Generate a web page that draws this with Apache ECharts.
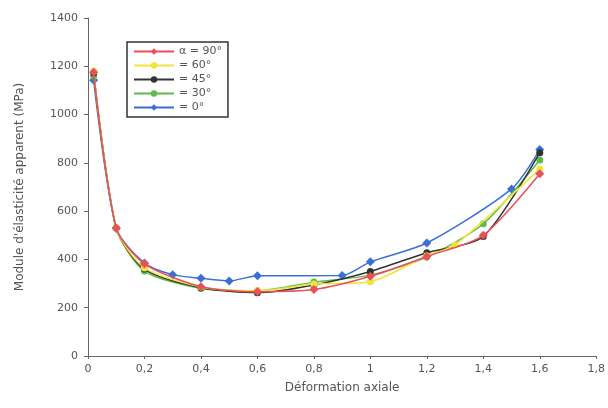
<!DOCTYPE html>
<html lang="fr">
<head>
    <meta charset="UTF-8">
    <title>Module d'élasticité apparent</title>
    <script src="https://cdn.jsdelivr.net/npm/echarts@6/dist/echarts.min.js"></script>
</head>
<body style="margin:0">
  <div id="main" style="width:608px;height:408px;"></div>
  <script type="text/javascript">
    // valeurs : [déformation, module MPa]
    var names = ['α = 90°', '= 60°', '= 45°', '= 30°', '= 0°'];
    var colors = ['#e8505a', '#f2e33c', '#2f3530', '#5dbb4c', '#3b6fd6'];
    var symbols = ['diamond', 'circle', 'circle', 'circle', 'diamond'];

    var s90 = [[0.02, 1175], [0.1, 530], [0.2, 382], [0.4, 287], [0.6, 266], [0.8, 275], [1.0, 330], [1.2, 412], [1.4, 500], [1.6, 755]];
    var s60 = [[0.02, 1180], [0.1, 530], [0.2, 365], [0.4, 286], [0.6, 270], [0.8, 298], [1.0, 308], [1.2, 415], [1.3, 460], [1.6, 775]];
    var s45 = [[0.02, 1172], [0.1, 530], [0.2, 360], [0.4, 283], [0.6, 262], [0.8, 294], [1.0, 350], [1.2, 428], [1.4, 495], [1.6, 842]];
    var s30 = [[0.02, 1160], [0.1, 530], [0.2, 352], [0.4, 280], [0.6, 270], [0.8, 306], [1.0, 335], [1.2, 410], [1.4, 548], [1.6, 812]];
    var s0 = [[0.02, 1142], [0.1, 528], [0.2, 385], [0.3, 337], [0.4, 322], [0.5, 311], [0.6, 332], [0.9, 333], [1.0, 390], [1.2, 468], [1.5, 692], [1.6, 855]];
    var allData = [s90, s60, s45, s30, s0];

    var myChart = echarts.init(document.getElementById('main'));

    var series = allData.map(function (d, i) {
        return {
            name: names[i],
            type: 'line',
            data: d,
            smooth: 0.25,
            symbol: symbols[i],
            symbolSize: symbols[i] == 'diamond' ? 9 : 7,
            lineStyle: {color: colors[i], width: 1.5},
            itemStyle: {color: colors[i]},
            z: 10 - i
        };
    });

    var option = {
        backgroundColor: '#ffffff',
        textStyle: {fontFamily: 'DejaVu Sans', color: '#555'},
        legend: {
            data: names,
            orient: 'vertical',
            left: 127,
            top: 42,
            itemWidth: 40,
            itemHeight: 8,
            itemGap: 3,
            padding: [4, 6, 4, 6],
            borderColor: '#333',
            borderWidth: 1.5,
            textStyle: {fontSize: 11, color: '#555'}
        },
        grid: {left: 88, right: 11, top: 18, bottom: 52},
        xAxis: {
            type: 'value',
            min: 0, max: 1.8, interval: 0.2,
            name: 'Déformation axiale',
            nameLocation: 'middle',
            nameGap: 26,
            nameTextStyle: {fontSize: 12, color: '#555'},
            axisLine: {lineStyle: {color: '#666'}},
            axisTick: {length: 3, lineStyle: {color: '#666'}},
            axisLabel: {fontSize: 11, color: '#555', margin: 8,
                formatter: function (v) { return String(+v.toFixed(1)).replace('.', ','); }},
            splitLine: {show: false}
        },
        yAxis: {
            type: 'value',
            min: 0, max: 1400, interval: 200,
            name: "Module d'élasticité apparent (MPa)",
            nameLocation: 'middle',
            nameGap: 62,
            nameTextStyle: {fontSize: 12, color: '#555'},
            axisLine: {show: true, lineStyle: {color: '#666'}},
            axisTick: {show: true, length: 4, lineStyle: {color: '#666'}},
            axisLabel: {fontSize: 11, color: '#555', margin: 10,
                formatter: function (v) { return String(v); }},
            splitLine: {show: false}
        },
        series: series
    };
    myChart.setOption(option);
  </script>
</body>
</html>
